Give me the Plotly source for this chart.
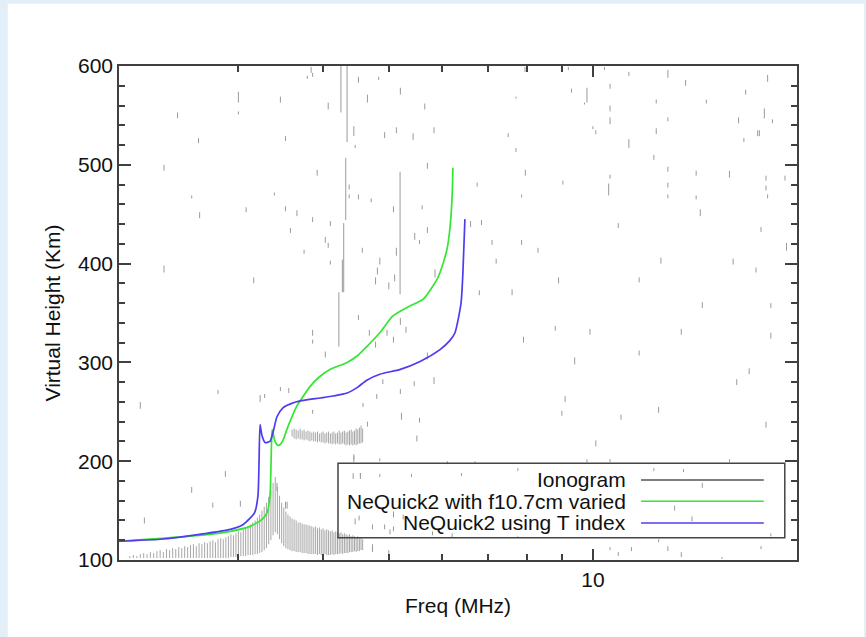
import math
import plotly.graph_objects as go

# ---------------- data ----------------
# NeQuick2 with f10.7cm varied (green)
green_f = [2.0, 2.63, 2.92, 3.12, 3.25, 3.307, 3.34, 3.352, 3.360, 3.366, 3.375, 3.39, 3.41, 3.432,
           3.46, 3.49, 3.55, 3.66, 3.70, 3.83, 3.96, 4.10, 4.34, 4.50, 4.64, 4.85, 5.07, 5.37,
           5.62, 5.89, 5.95, 6.09, 6.15, 6.196, 6.217]
green_h = [119, 125, 129, 134, 141, 148, 165, 199, 226, 232, 229, 222, 218, 216,
           217, 221, 235, 256, 261, 276, 286, 293, 300, 307, 316, 330, 347, 357,
           364, 384, 391, 414, 434, 464, 497]

# NeQuick2 using T index (blue)
blue_f = [2.0, 2.3, 2.63, 2.92, 3.05, 3.17, 3.206, 3.218, 3.229, 3.25, 3.284, 3.34, 3.374, 3.42,
          3.49, 3.58, 3.70, 3.96, 4.14, 4.34, 4.50, 4.64, 4.85, 5.20, 5.56, 5.95, 6.15, 6.26,
          6.39, 6.43, 6.475]
blue_h = [119, 121, 126, 131, 136, 148, 165, 199, 237, 226, 219, 220, 229, 245,
          254, 258, 261, 264, 266, 269, 275, 282, 288, 293, 301, 313, 322, 330,
          360, 390, 445]

# Ionogram: lower echo trace, one vertical echo segment per sounding frequency (MHz, km, km)
etrace_f = [2.075, 2.100, 2.125, 2.150, 2.175, 2.200, 2.225, 2.250, 2.275, 2.300,
            2.325, 2.350, 2.375, 2.400, 2.425, 2.450, 2.475, 2.500, 2.525, 2.550,
            2.575, 2.600, 2.625, 2.650, 2.675, 2.700, 2.725, 2.750, 2.775, 2.800,
            2.825, 2.850, 2.875, 2.900, 2.925, 2.950, 2.975, 3.000, 3.025, 3.050,
            3.075, 3.100, 3.125, 3.150, 3.175, 3.200, 3.225, 3.250, 3.275, 3.300,
            3.325, 3.350, 3.375, 3.400, 3.425, 3.450, 3.475, 3.500, 3.525, 3.550,
            3.575, 3.600, 3.625, 3.650, 3.675, 3.700, 3.725, 3.750, 3.775, 3.800,
            3.825, 3.850, 3.875, 3.900, 3.925, 3.950, 3.975, 4.000, 4.025, 4.050,
            4.075, 4.100, 4.125, 4.150, 4.175, 4.200, 4.225, 4.250, 4.275, 4.300,
            4.325, 4.350, 4.375, 4.400, 4.425, 4.450, 4.475, 4.500, 4.525, 4.550, 4.575]
etrace_lo = [102, 102, 102, 102, 102, 102, 102, 102, 102, 102,
             102, 102, 102, 102, 102, 102, 102, 102, 102, 102,
             102, 102, 102, 102, 102, 102, 102, 102, 102, 102,
             102, 102, 102, 102, 103, 103, 103, 103, 104, 104,
             104, 105, 105, 105, 106, 106, 107, 108, 110, 112,
             116, 120, 125, 128, 126, 121, 117, 114, 112, 111,
             110, 109, 109, 108, 108, 108, 107, 107, 107, 106,
             106, 106, 106, 106, 105, 106, 105, 105, 106, 105,
             105, 105, 106, 105, 106, 106, 106, 107, 106, 107,
             107, 107, 108, 108, 108, 109, 108, 109, 109, 110, 110]
etrace_hi = [104, 105, 104, 106, 107, 106, 108, 107, 109, 110,
             108, 111, 110, 112, 111, 113, 112, 114, 113, 115,
             116, 114, 117, 116, 118, 117, 119, 120, 118, 121,
             122, 121, 123, 124, 126, 125, 127, 129, 128, 131,
             133, 134, 136, 138, 140, 143, 146, 150, 154, 158,
             164, 170, 178, 184, 174, 165, 158, 153, 149, 146,
             144, 142, 141, 140, 138, 138, 137, 136, 136, 135,
             135, 134, 133, 134, 132, 133, 131, 132, 130, 131,
             130, 129, 130, 128, 129, 128, 127, 128, 126, 127,
             126, 125, 126, 124, 125, 124, 123, 124, 122, 123, 121]

# Ionogram: upper echo cluster
ftrace_f = [3.600, 3.625, 3.650, 3.675, 3.700, 3.725, 3.750, 3.775, 3.800, 3.825,
            3.850, 3.875, 3.900, 3.925, 3.950, 3.975, 4.000, 4.025, 4.050, 4.075,
            4.100, 4.125, 4.150, 4.175, 4.200, 4.225, 4.250, 4.275, 4.300, 4.325,
            4.350, 4.375, 4.400, 4.425, 4.450, 4.475, 4.500, 4.525, 4.550, 4.575]
ftrace_lo = [225, 223, 222, 223, 222, 222, 221, 222, 221, 220,
             221, 220, 220, 219, 220, 219, 219, 218, 219, 218,
             218, 217, 218, 217, 218, 217, 217, 218, 217, 216,
             217, 216, 217, 216, 217, 216, 217, 218, 218, 219]
ftrace_hi = [232, 233, 232, 231, 233, 231, 232, 230, 231, 230,
             229, 230, 229, 230, 228, 229, 230, 228, 229, 230,
             228, 229, 230, 228, 229, 231, 229, 230, 231, 229,
             230, 231, 232, 230, 231, 233, 232, 234, 236, 233]

# Ionogram: long vertical streaks (freq, low, high)
streaks = [(4.25, 553, 600), (4.339, 523, 600), (4.32, 444, 507), (4.29, 371, 441),
           (4.27, 371, 404), (4.22, 316, 371), (5.195, 369, 493)]

# Ionogram: scattered noise echoes (freq, low, high)
noise_top = [(2.44, 547, 553), (2.33, 494, 500), (2.62, 522, 527), (3.00, 563, 574), (3.00, 551, 554),
             (3.46, 563, 569), (3.52, 524, 529), (3.39, 469, 472), (3.84, 593, 599), (3.79, 587, 590),
             (4.07, 556, 563), (4.51, 583, 589), (4.65, 563, 571), (4.83, 586, 589), (4.44, 529, 539),
             (4.46, 517, 520), (4.93, 527, 533), (5.13, 532, 538), (3.92, 489, 495), (4.37, 475, 480),
             (2.56, 466, 469), (7.94, 594, 599), (9.0, 596, 599), (9.2, 596, 599), (10.4, 596, 599),
             (11.3, 590, 594), (12.9, 588, 596), (18.1, 584, 591), (13.7, 580, 586), (10.6, 577, 582),
             (9.3, 573, 577), (9.8, 563, 578), (9.72, 561, 563), (7.7, 567, 569), (16.8, 571, 576),
             (12.4, 562, 566), (14.7, 562, 566), (10.6, 554, 560), (10.6, 541, 548), (12.9, 544, 548),
             (16.4, 542, 548), (17.9, 547, 557), (18.4, 542, 546), (10.0, 536, 539), (10.1, 531, 535),
             (12.4, 531, 537), (17.5, 529, 535), (17.6, 529, 535), (7.5, 528, 532), (11.3, 517, 526),
             (16.7, 523, 527), (7.7, 513, 517), (12.3, 505, 510), (7.95, 489, 495), (9.03, 480, 484),
             (12.9, 493, 498), (14.2, 489, 494), (15.9, 487, 494), (10.6, 486, 490), (10.55, 469, 481),
             (12.9, 477, 482), (18.0, 484, 489), (19.2, 484, 489), (18.0, 474, 479), (7.85, 467, 470),
             (12.9, 466, 470), (14.2, 465, 469), (18.1, 466, 470), (3.86, 589, 593), (5.2, 571, 578),
             (5.65, 556, 562), (5.43, 525, 532), (5.83, 532, 538), (5.7, 496, 502)]
noise_mid = [(4.37, 466, 470), (4.51, 465, 470), (4.71, 462, 466), (5.08, 452, 458), (5.6, 455, 459),
             (3.86, 442, 447), (4.1, 438, 443), (5.7, 431, 437), (4.03, 421, 427), (4.07, 416, 421),
             (4.57, 411, 416), (5.46, 424, 431), (5.55, 420, 424), (5.13, 408, 416), (4.1, 399, 403),
             (4.85, 399, 406), (4.81, 389, 396), (4.78, 379, 386), (5.0, 374, 381), (5.1, 382, 389),
             (5.85, 386, 394), (3.86, 327, 333), (3.86, 319, 323), (4.03, 305, 311), (4.51, 343, 348),
             (4.68, 327, 333), (4.78, 315, 321), (4.97, 327, 333), (5.08, 320, 326), (5.3, 330, 336),
             (5.2, 338, 345), (5.7, 303, 310), (5.83, 278, 285), (5.45, 276, 281), (4.9, 278, 283),
             (5.2, 268, 273), (4.8, 263, 268), (4.58, 255, 259), (3.86, 248, 252), (5.22, 242, 249),
             (5.55, 239, 244), (4.65, 235, 240), (5.5, 220, 226), (4.44, 202, 207), (2.80, 268, 272),
             (3.23, 260, 267), (3.28, 264, 268), (3.46, 271, 275), (3.56, 269, 274), (2.15, 253, 260),
             (2.33, 391, 398), (2.63, 446, 452), (3.08, 452, 457), (3.16, 380, 386), (3.52, 453, 458),
             (3.66, 448, 454), (3.58, 431, 436), (3.75, 410, 414), (6.6, 437, 443), (6.85, 439, 444),
             (6.75, 478, 482), (7.1, 419, 424), (7.2, 400, 405), (6.8, 368, 373), (7.85, 419, 424),
             (8.3, 411, 416), (7.6, 368, 374), (7.9, 320, 326), (8.9, 380, 386), (8.8, 332, 337),
             (9.1, 260, 266), (9.4, 298, 305), (9.9, 328, 334), (10.9, 436, 441), (11.7, 381, 386),
             (11.7, 307, 312), (12.6, 400, 406), (14.4, 448, 455), (14.5, 355, 361), (13.5, 328, 334),
             (16.1, 399, 405), (17.4, 391, 396), (17.7, 432, 437), (18.0, 234, 240), (17.0, 288, 294),
             (16.3, 277, 283), (12.5, 249, 255), (11.0, 242, 247), (10.1, 215, 221), (9.0, 246, 251),
             (18.3, 324, 330), (18.3, 355, 360), (19.3, 413, 421)]
noise_low = [(2.87, 184, 190), (2.75, 153, 158), (3.02, 154, 160), (3.52, 152, 159), (3.54, 152, 159),
             (3.42, 170, 178), (4.44, 199, 205), (4.43, 182, 188), (4.54, 182, 188), (4.73, 131, 136),
             (4.93, 131, 136), (5.08, 143, 149), (5.02, 126, 131), (4.46, 136, 142), (4.73, 111, 116),
             (2.18, 137, 143), (2.56, 168, 174), (4.54, 185, 188), (4.85, 184, 187), (5.4, 184, 187),
             (6.4, 185, 188), (7.75, 190, 193), (12.3, 190, 193), (13.6, 189, 192), (14.5, 173, 178),
             (13.2, 150, 155), (14.0, 139, 144), (4.52, 140, 145), (5.08, 129, 134), (5.25, 141, 146),
             (4.85, 200, 203), (6.1, 197, 200), (6.7, 197, 200), (9.8, 199, 202), (10.6, 199, 202),
             (15.9, 199, 202), (4.73, 108, 113), (5.0, 106, 110), (5.8, 125, 129), (6.2, 123, 127),
             (7.75, 122, 124), (10.6, 110, 113), (10.9, 104, 108), (11.4, 109, 113), (12.5, 118, 121),
             (12.9, 109, 114), (13.5, 103, 108), (15.5, 101, 103), (17.7, 111, 114), (18.3, 124, 127)]

legend_labels = ["Ionogram", "NeQuick2 with f10.7cm varied", "NeQuick2 using T index"]
x_range = [2, 20]
y_range = [100, 600]

# ---------------- styles ----------------
GRAY = "#a6a6a6"
NOISE = "#9a9a9a"
GREEN = "#33e633"
BLUE = "#4f3cf0"
AXIS = "#404040"
FONT = "Liberation Sans, Arial, Helvetica, sans-serif"


def segments(items):
    xs, ys = [], []
    for f, lo, hi in items:
        xs += [f, f, None]
        ys += [lo, hi, None]
    return xs, ys


fig = go.Figure()

tx, ty = segments(list(zip(etrace_f, etrace_lo, etrace_hi)) + list(zip(ftrace_f, ftrace_lo, ftrace_hi)))
fig.add_trace(go.Scatter(x=tx, y=ty, mode="lines", line=dict(color=GRAY, width=1),
                         showlegend=False, hoverinfo="skip"))
nx, ny = segments(streaks + noise_top + noise_mid + noise_low)
fig.add_trace(go.Scatter(x=nx, y=ny, mode="lines", line=dict(color=NOISE, width=1),
                         showlegend=False, hoverinfo="skip"))

fig.add_trace(go.Scatter(x=green_f, y=green_h, mode="lines",
                         line=dict(color=GREEN, width=1.7, shape="spline", smoothing=0.6),
                         showlegend=False))
fig.add_trace(go.Scatter(x=blue_f, y=blue_h, mode="lines",
                         line=dict(color=BLUE, width=1.7, shape="spline", smoothing=0.6),
                         showlegend=False))

# custom legend (text on the left, line sample on the right, as in the original)
legend_colors = ["#555555", GREEN, BLUE]
row_y = [0.162, 0.119, 0.075]
shapes = [
    dict(type="rect", xref="paper", yref="paper", x0=-0.164, x1=1.099, y0=-0.2, y1=1.126,
         fillcolor="white", line=dict(width=0), layer="below"),
    dict(type="rect", xref="paper", yref="paper", x0=0.323, x1=0.982, y0=0.045, y1=0.196,
         line=dict(color="#444444", width=1.5), fillcolor="rgba(0,0,0,0)"),
]
annotations = []
for lbl, col, yy in zip(legend_labels, legend_colors, row_y):
    shapes.append(dict(type="line", xref="paper", yref="paper", x0=0.770, x1=0.951, y0=yy, y1=yy,
                       line=dict(color=col, width=1.6)))
    annotations.append(dict(text=lbl, xref="paper", yref="paper", x=0.751, y=yy, xanchor="right",
                            yanchor="middle", showarrow=False,
                            font=dict(family=FONT, size=21, color="#111111")))

fig.update_layout(
    width=866, height=637,
    margin=dict(l=119, r=69, t=66, b=77),
    paper_bgcolor="#e2eff8",
    plot_bgcolor="white",
    font=dict(family=FONT, size=21, color="#111111"),
    shapes=shapes,
    annotations=annotations,
    showlegend=False,
)

fig.update_xaxes(
    type="log", range=[math.log10(x_range[0]), math.log10(x_range[1])],
    tickmode="array", tickvals=[10], ticktext=["10"],
    ticks="inside", ticklen=11, tickwidth=1.5, tickcolor=AXIS,
    minor=dict(ticks="inside", ticklen=6, tickwidth=1.5, tickcolor=AXIS,
               tickmode="array", tickvals=[3, 4, 5, 6, 7, 8, 9], showgrid=False),
    showline=True, linecolor=AXIS, linewidth=1.5, mirror="allticks",
    showgrid=False, zeroline=False,
    title=dict(text="Freq (MHz)", font=dict(family=FONT, size=21), standoff=8),
    tickfont=dict(family=FONT, size=21),
)
fig.update_yaxes(
    range=y_range, tickmode="linear", tick0=100, dtick=100,
    ticks="inside", ticklen=12, tickwidth=1.5, tickcolor=AXIS,
    minor=dict(ticks="inside", ticklen=6, tickwidth=1.5, tickcolor=AXIS, dtick=20, showgrid=False),
    showline=True, linecolor=AXIS, linewidth=1.5, mirror="allticks",
    showgrid=False, zeroline=False,
    title=dict(text="Virtual Height (Km)", font=dict(family=FONT, size=21), standoff=12),
    tickfont=dict(family=FONT, size=21),
)

fig.write_html(
    "out.html",
    config={"displayModeBar": False},
    post_script="document.body.style.margin='0px';document.body.style.background='#e2eff8';",
)
